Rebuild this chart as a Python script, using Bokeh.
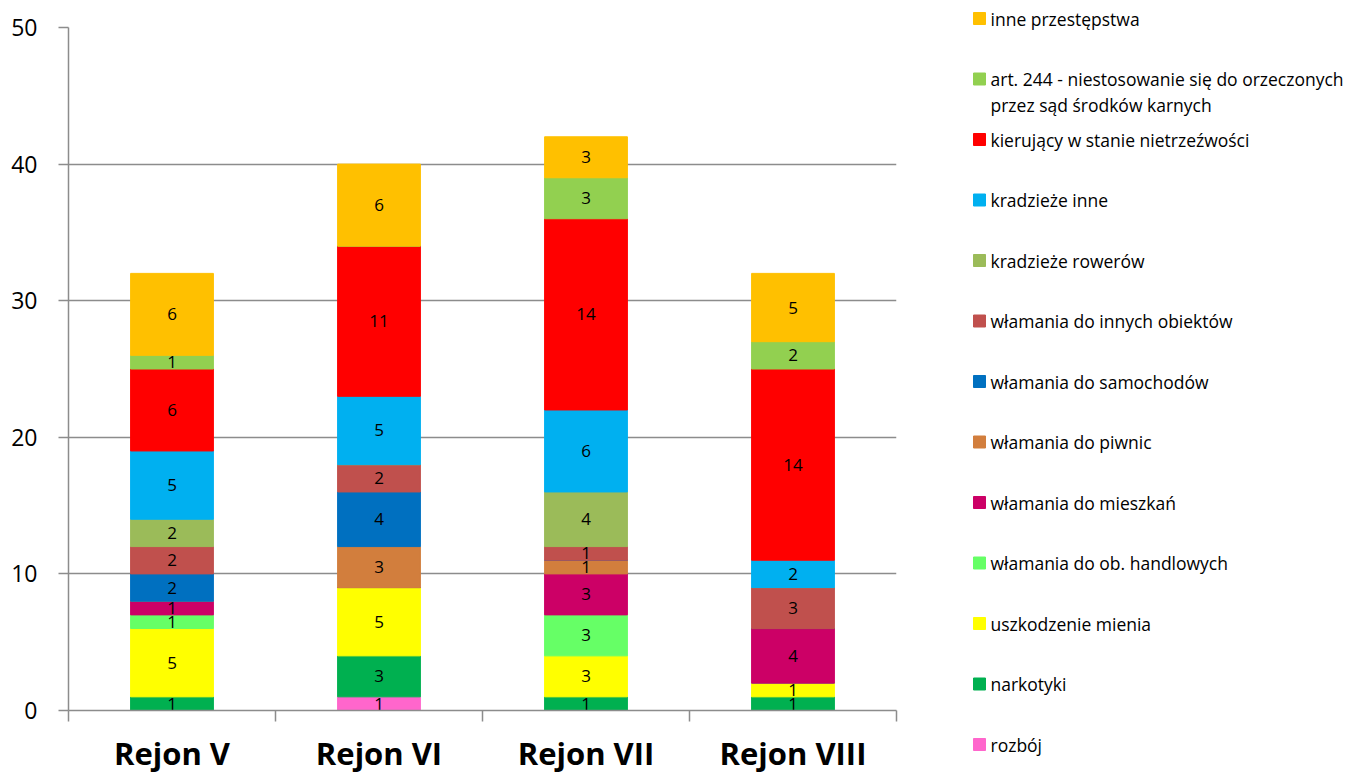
from bokeh.plotting import figure
from bokeh.models import Range1d, FixedTicker, ColumnDataSource
from bokeh.layouts import row, column
from bokeh.core.properties import value
from bokeh.embed import file_html
from bokeh.resources import INLINE

# ---- data ----
categories = ["Rejon V", "Rejon VI", "Rejon VII", "Rejon VIII"]

series_names = [
    "rozbój",
    "narkotyki",
    "uszkodzenie mienia",
    "włamania do ob. handlowych",
    "włamania do mieszkań",
    "włamania do piwnic",
    "włamania do samochodów",
    "włamania do innych obiektów",
    "kradzieże rowerów",
    "kradzieże inne",
    "kierujący w stanie nietrzeźwości",
    "art. 244 - niestosowanie się do orzeczonych\nprzez sąd środków karnych",
    "inne przestępstwa",
]

rozboj = [0, 1, 0, 0]
narkotyki = [1, 3, 1, 1]
uszkodzenie = [5, 5, 3, 1]
wl_handlowe = [1, 0, 3, 0]
wl_mieszkania = [1, 0, 3, 4]
wl_piwnice = [0, 3, 1, 0]
wl_samochody = [2, 4, 0, 0]
wl_inne = [2, 2, 1, 3]
kr_rowery = [2, 0, 4, 0]
kr_inne = [5, 5, 6, 2]
kierujacy = [6, 11, 14, 14]
art244 = [1, 0, 3, 2]
inne = [6, 6, 3, 5]

colors = ["#FF66CC", "#00B050", "#FFFF00", "#66FF66", "#CC0066", "#D27E3D",
          "#0070C0", "#C0504D", "#9BBB59", "#00B0F0", "#FF0000", "#92D050", "#FFC000"]

y_ticks = [0, 10, 20, 30, 40, 50]

series_values = [rozboj, narkotyki, uszkodzenie, wl_handlowe, wl_mieszkania, wl_piwnice,
                 wl_samochody, wl_inne, kr_rowery, kr_inne, kierujacy, art244, inne]

# ---- main chart ----
FONT = "Open Sans"
GRID = "#8c8c8c"
H = 776

xs = [i + 1 for i in range(len(categories))]
keys = [f"s{i}" for i in range(len(series_names))]
data = {"x": xs}
for k, v in zip(keys, series_values):
    data[k] = v
src = ColumnDataSource(data)

p = figure(width=948, height=H, x_range=Range1d(0.5, len(categories) + 0.5),
           y_range=Range1d(0, 50), output_backend="svg", toolbar_location=None,
           min_border_left=68, min_border_top=27, min_border_right=52, min_border_bottom=66)
p.outline_line_color = None
p.background_fill_color = "white"

p.vbar_stack(keys, x="x", width=0.4, color=colors, source=src)

# data labels
lx, ly, lt = [], [], []
for ci, x in enumerate(xs):
    base = 0
    for v in series_values:
        val = v[ci]
        if val:
            lx.append(x)
            ly.append(base + val / 2)
            lt.append(str(val))
        base += val
p.text(x=lx, y=ly, text=lt, text_align="center", text_baseline="middle",
       text_font=value(FONT), text_font_size="17px", text_color="black")

# axes
p.xaxis.ticker = FixedTicker(ticks=xs, minor_ticks=[x - 0.5 for x in xs] + [xs[-1] + 0.5])
p.xaxis.major_label_overrides = {x: c for x, c in zip(xs, categories)}
p.xaxis.major_tick_line_color = None
p.xaxis.major_tick_out = 0
p.xaxis.minor_tick_line_color = GRID
p.xaxis.minor_tick_line_width = 1.5
p.xaxis.minor_tick_out = 11
p.xaxis.minor_tick_in = 0
p.xaxis.axis_line_color = GRID
p.xaxis.axis_line_width = 1.5
p.xaxis.major_label_text_font = FONT
p.xaxis.major_label_text_font_style = "bold"
p.xaxis.major_label_text_font_size = "31px"
p.xaxis.major_label_text_color = "black"
p.xaxis.major_label_standoff = 10

p.yaxis.ticker = FixedTicker(ticks=y_ticks)
p.yaxis.minor_tick_line_color = None
p.yaxis.major_tick_line_color = GRID
p.yaxis.major_tick_line_width = 1.5
p.yaxis.major_tick_out = 10
p.yaxis.major_tick_in = 0
p.yaxis.axis_line_color = GRID
p.yaxis.axis_line_width = 1.5
p.yaxis.major_label_text_font = FONT
p.yaxis.major_label_text_font_size = "23px"
p.yaxis.major_label_text_color = "black"
p.yaxis.major_label_standoff = 21

p.xgrid.visible = False
p.ygrid.grid_line_color = GRID
p.ygrid.grid_line_width = 1.5

# ---- legend panel ----
LW = 1368 - 948
lf = figure(width=LW, height=H, x_range=Range1d(0, LW), y_range=Range1d(H, 0),
            output_backend="svg", toolbar_location=None, min_border=0,
            x_axis_type=None, y_axis_type=None)
lf.outline_line_color = None
lf.grid.visible = False

leg_names = list(reversed(series_names))
leg_colors = list(reversed(colors))
sq_y, tx, ty, tt = [], [], [], []
for i, name in enumerate(leg_names):
    y0 = 18 + 60.5 * i
    sq_y.append(y0)
    for j, line in enumerate(name.split("\n")):
        tx.append(42)
        ty.append(y0 + 26 * j)
        tt.append(line)
lf.rect(x=[31] * len(sq_y), y=sq_y, width=12, height=12, color=leg_colors)
lf.text(x=tx, y=ty, text=tt, text_align="left", text_baseline="middle",
        text_font=value(FONT), text_font_size="17.5px", text_color="black")

layout = row(p, column(lf))
open("out.html", "w").write(file_html(layout, INLINE))
